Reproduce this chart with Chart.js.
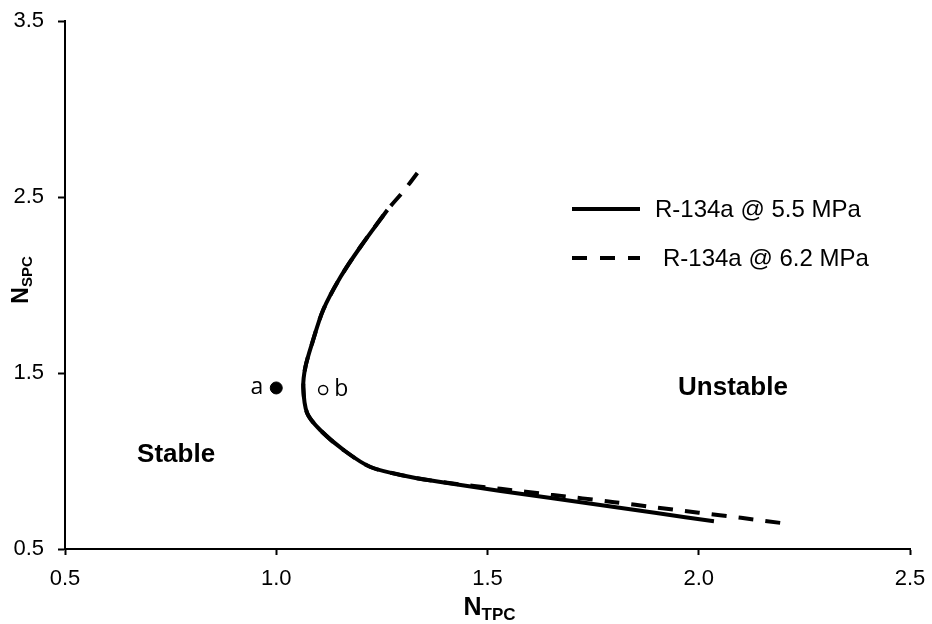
<!DOCTYPE html>
<html lang="en">

<head>
    <meta charset="UTF-8">
    <title>Stability map</title>
    <script src="https://cdn.jsdelivr.net/npm/chart.js"></script>
    <style>
        body {
            margin: 0;
            background: #fff;
        }
    </style>
</head>

<body>
    <canvas id="stabilityChart" width="932" height="624"></canvas>

    <script>
        // axis ticks
        var xTicks = [0.5, 1.0, 1.5, 2.0, 2.5];
        var yTicks = [0.5, 1.5, 2.5, 3.5];

        // R-134a @ 5.5 MPa boundary
        var ntpc55 = [1.263, 1.199, 1.152, 1.111, 1.085, 1.069, 1.064, 1.073, 1.104, 1.159, 1.223, 1.318, 1.405, 1.531, 1.650, 1.800, 1.900, 2.036];
        var nspc55 = [2.426, 2.216, 2.045, 1.858, 1.670, 1.534, 1.420, 1.273, 1.176, 1.063, 0.966, 0.909, 0.875, 0.830, 0.790, 0.739, 0.704, 0.658];

        // R-134a @ 6.2 MPa boundary
        var ntpc62 = [1.334, 1.300, 1.263, 1.199, 1.152, 1.111, 1.085, 1.069, 1.064, 1.073, 1.104, 1.159, 1.223, 1.318, 1.405, 1.531, 1.650, 1.800, 1.900, 2.000, 2.100, 2.194];
        var nspc62 = [2.636, 2.530, 2.426, 2.216, 2.045, 1.858, 1.670, 1.534, 1.420, 1.273, 1.176, 1.063, 0.966, 0.909, 0.876, 0.842, 0.809, 0.766, 0.736, 0.706, 0.677, 0.648];

        // operating points
        var pointA = [1.0, 1.415];
        var pointB = [1.111, 1.403];

        // region labels [text, x, y]
        var regionLabels = [['Stable', 0.763, 1.034], ['Unstable', 2.081, 1.415]];

        var FONT = '"Liberation Sans", Arial, sans-serif';
        Chart.defaults.font.family = FONT;
        Chart.defaults.color = '#000';

        function toXY(xs, ys) {
            return xs.map(function (x, i) { return { x: x, y: ys[i] }; });
        }

        // titles with subscripts, legend and text labels
        var extras = {
            id: 'extras',
            afterDraw: function (chart) {
                var ctx = chart.ctx;
                var xs = chart.scales.x, ys = chart.scales.y;
                ctx.save();
                ctx.fillStyle = '#000';
                ctx.strokeStyle = '#000';

                // x title
                ctx.textBaseline = 'alphabetic';
                ctx.textAlign = 'left';
                ctx.font = 'bold 25px ' + FONT;
                var wN = ctx.measureText('N').width;
                ctx.font = 'bold 17px ' + FONT;
                var wSub = ctx.measureText('TPC').width;
                var cx = (chart.chartArea.left + chart.chartArea.right) / 2 + 2;
                var x0 = cx - (wN + wSub) / 2;
                ctx.font = 'bold 25px ' + FONT;
                ctx.fillText('N', x0, 615);
                ctx.font = 'bold 17px ' + FONT;
                ctx.fillText('TPC', x0 + wN, 620);

                // y title
                ctx.save();
                ctx.translate(28, 280);
                ctx.rotate(-Math.PI / 2);
                ctx.font = 'bold 23px ' + FONT;
                var wN2 = ctx.measureText('N').width;
                ctx.font = 'bold 15px ' + FONT;
                var wSub2 = ctx.measureText('SPC').width;
                var y0 = -(wN2 + wSub2) / 2;
                ctx.font = 'bold 23px ' + FONT;
                ctx.fillText('N', y0, 0);
                ctx.font = 'bold 15px ' + FONT;
                ctx.fillText('SPC', y0 + wN2, 4);
                ctx.restore();

                // legend
                ctx.lineWidth = 4;
                ctx.lineCap = 'butt';
                ctx.setLineDash([]);
                ctx.beginPath();
                ctx.moveTo(572, 209);
                ctx.lineTo(640, 209);
                ctx.stroke();
                ctx.setLineDash([15, 13]);
                ctx.beginPath();
                ctx.moveTo(572, 258);
                ctx.lineTo(640, 258);
                ctx.stroke();
                ctx.setLineDash([]);
                ctx.font = '24px ' + FONT;
                ctx.textBaseline = 'middle';
                ctx.fillText('R-134a @ 5.5 MPa', 655, 210);
                ctx.fillText('R-134a @ 6.2 MPa', 663, 259);

                // region labels
                ctx.font = 'bold 26px ' + FONT;
                ctx.textAlign = 'center';
                regionLabels.forEach(function (r) {
                    ctx.fillText(r[0], xs.getPixelForValue(r[1]), ys.getPixelForValue(r[2]));
                });

                // point labels
                ctx.font = '23px "Open Sans", sans-serif';
                ctx.textBaseline = 'alphabetic';
                ctx.textAlign = 'right';
                ctx.fillText('a', xs.getPixelForValue(pointA[0]) - 13, ys.getPixelForValue(pointA[1]) + 6);
                ctx.textAlign = 'left';
                ctx.fillText('b', xs.getPixelForValue(pointB[0]) + 11, ys.getPixelForValue(pointB[1]) + 6);
                ctx.restore();
            }
        };

        var ctx = document.getElementById('stabilityChart').getContext('2d');
        var myChart = new Chart(ctx, {
            type: 'scatter',
            data: {
                datasets: [
                    {
                        label: 'R-134a @ 6.2 MPa',
                        data: toXY(ntpc62, nspc62),
                        showLine: true,
                        borderColor: '#000',
                        borderWidth: 4,
                        borderDash: [15, 12],
                        tension: 0.3,
                        pointRadius: 0
                    },
                    {
                        label: 'R-134a @ 5.5 MPa',
                        data: toXY(ntpc55, nspc55),
                        showLine: true,
                        borderColor: '#000',
                        borderWidth: 4,
                        tension: 0.3,
                        pointRadius: 0
                    },
                    {
                        label: 'a',
                        data: [{ x: pointA[0], y: pointA[1] }],
                        pointRadius: 6,
                        backgroundColor: '#000',
                        borderColor: '#000'
                    },
                    {
                        label: 'b',
                        data: [{ x: pointB[0], y: pointB[1] }],
                        pointRadius: 4.5,
                        borderWidth: 1.5,
                        backgroundColor: '#fff',
                        borderColor: '#000'
                    }
                ]
            },
            options: {
                responsive: false,
                animation: false,
                layout: {
                    padding: { top: 21, right: 22, left: 0, bottom: 0 }
                },
                plugins: {
                    legend: { display: false },
                    tooltip: { enabled: false }
                },
                scales: {
                    x: {
                        type: 'linear',
                        min: 0.5,
                        max: 2.5,
                        afterBuildTicks: function (s) { s.ticks = xTicks.map(function (v) { return { value: v }; }); },
                        afterFit: function (s) {
                            s.height = 75;
                            s.paddingLeft = 0;
                            s.paddingRight = 0;
                        },
                        ticks: {
                            font: { size: 22 },
                            padding: 11,
                            maxRotation: 0,
                            callback: function (v) { return v.toFixed(1); }
                        },
                        grid: { drawOnChartArea: false, tickLength: 6, tickWidth: 2, color: '#000' },
                        border: { color: '#000', width: 2 }
                    },
                    y: {
                        type: 'linear',
                        min: 0.5,
                        max: 3.5,
                        afterBuildTicks: function (s) { s.ticks = yTicks.map(function (v) { return { value: v }; }); },
                        afterFit: function (s) {
                            s.width = 65;
                            s.paddingTop = 0;
                            s.paddingBottom = 0;
                        },
                        ticks: {
                            font: { size: 22 },
                            padding: 14,
                            callback: function (v) { return v.toFixed(1); }
                        },
                        grid: { drawOnChartArea: false, tickLength: 7, tickWidth: 2, color: '#000' },
                        border: { color: '#000', width: 2 }
                    }
                }
            },
            plugins: [extras]
        });
    </script>
</body>

</html>
